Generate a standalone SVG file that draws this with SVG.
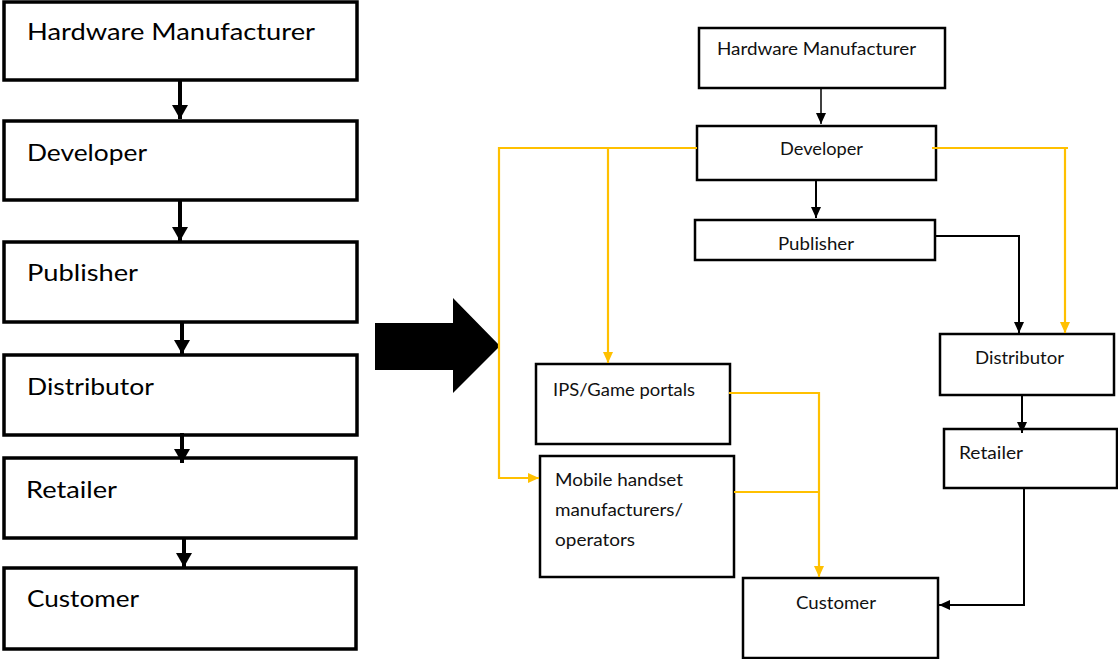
<svg xmlns="http://www.w3.org/2000/svg" width="1118" height="659" viewBox="0 0 1118 659">
  <style>
    .box-l { fill: #fff; stroke: #000; stroke-width: 3.5; }
    .box-r { fill: #fff; stroke: #000; stroke-width: 2.5; }
    .txt-l { font-family: Lato, "Open Sans", "Liberation Sans", sans-serif; font-size: 24px; fill: #000; }
    .txt-r { font-family: Lato, "Open Sans", "Liberation Sans", sans-serif; font-size: 18px; fill: #111; }
    .ln-l { fill: none; stroke: #000; stroke-width: 4; }
    .ln-k { fill: none; stroke: #000; stroke-width: 2; }
    .ln-k1 { fill: none; stroke: #000; stroke-width: 1.5; }
    .ln-y { fill: none; stroke: #FFC000; stroke-width: 2.2; }
  </style>
  <defs>
    <marker id="headL" markerUnits="userSpaceOnUse" markerWidth="16" markerHeight="16" refX="14" refY="8" orient="auto">
      <path d="M0,0 L14,8 L0,16 z" fill="#000"/>
    </marker>
    <marker id="headK" markerUnits="userSpaceOnUse" markerWidth="11" markerHeight="10" refX="11" refY="5" orient="auto">
      <path d="M0,0 L11,5 L0,10 z" fill="#000"/>
    </marker>
    <marker id="headY" markerUnits="userSpaceOnUse" markerWidth="11" markerHeight="10" refX="11" refY="5" orient="auto">
      <path d="M0,0 L11,5 L0,10 z" fill="#FFC000"/>
    </marker>
  </defs>

  <rect width="1118" height="659" fill="#fff"/>

  <!-- linear chain on the left -->
  <g id="l-hardware">
    <rect class="box-l" x="4" y="2" width="353" height="78"/>
    <text class="txt-l" x="27" y="40" textLength="288" lengthAdjust="spacingAndGlyphs">Hardware Manufacturer</text>
  </g>
  <g id="l-developer">
    <rect class="box-l" x="4" y="121" width="353" height="79"/>
    <text class="txt-l" x="27" y="161" textLength="120" lengthAdjust="spacingAndGlyphs">Developer</text>
  </g>
  <g id="l-publisher">
    <rect class="box-l" x="4" y="242" width="353" height="80"/>
    <text class="txt-l" x="27" y="281" textLength="111" lengthAdjust="spacingAndGlyphs">Publisher</text>
  </g>
  <g id="l-distributor">
    <rect class="box-l" x="4" y="355" width="353" height="80"/>
    <text class="txt-l" x="27" y="395" textLength="127" lengthAdjust="spacingAndGlyphs">Distributor</text>
  </g>
  <g id="l-retailer">
    <rect class="box-l" x="4" y="458" width="352" height="80"/>
    <text class="txt-l" x="26" y="498" textLength="91" lengthAdjust="spacingAndGlyphs">Retailer</text>
  </g>
  <g id="l-customer">
    <rect class="box-l" x="4" y="568" width="352" height="81"/>
    <text class="txt-l" x="27" y="607" textLength="112" lengthAdjust="spacingAndGlyphs">Customer</text>
  </g>

  <!-- big transition arrow -->
  <g id="transition-arrow">
    <polygon points="375,323 453,323 453,298 500,346 453,393 453,370 375,370" fill="#000"/>
  </g>

  <!-- network on the right -->
  <g id="r-hardware">
    <rect class="box-r" x="699" y="28" width="246" height="60"/>
    <text class="txt-r" x="717" y="55" textLength="199" lengthAdjust="spacingAndGlyphs">Hardware Manufacturer</text>
  </g>
  <g id="r-developer">
    <rect class="box-r" x="697" y="126" width="239" height="54"/>
    <text class="txt-r" x="780" y="155" textLength="83" lengthAdjust="spacingAndGlyphs">Developer</text>
  </g>
  <g id="r-publisher">
    <rect class="box-r" x="695" y="220" width="240" height="40"/>
    <text class="txt-r" x="778" y="250" textLength="76" lengthAdjust="spacingAndGlyphs">Publisher</text>
  </g>
  <g id="r-distributor">
    <rect class="box-r" x="940" y="334" width="174" height="61"/>
    <text class="txt-r" x="975" y="364" textLength="89" lengthAdjust="spacingAndGlyphs">Distributor</text>
  </g>
  <g id="r-retailer">
    <rect class="box-r" x="944" y="429" width="173" height="59"/>
    <text class="txt-r" x="959" y="459" textLength="64" lengthAdjust="spacingAndGlyphs">Retailer</text>
  </g>
  <g id="r-ips">
    <rect class="box-r" x="536" y="364" width="194" height="80"/>
    <text class="txt-r" x="553" y="396" textLength="142" lengthAdjust="spacingAndGlyphs">IPS/Game portals</text>
  </g>
  <g id="r-mobile">
    <rect class="box-r" x="540" y="456" width="194" height="121"/>
    <text class="txt-r" x="555" y="486" textLength="128" lengthAdjust="spacingAndGlyphs">Mobile handset</text>
    <text class="txt-r" x="555" y="516" textLength="128" lengthAdjust="spacingAndGlyphs">manufacturers/</text>
    <text class="txt-r" x="555" y="546" textLength="80" lengthAdjust="spacingAndGlyphs">operators</text>
  </g>
  <g id="r-customer">
    <rect class="box-r" x="743" y="578" width="195" height="80"/>
    <text class="txt-r" x="796" y="609" textLength="80" lengthAdjust="spacingAndGlyphs">Customer</text>
  </g>

  <g id="connectors">
    <!-- left chain -->
    <line class="ln-l" x1="180" y1="81" x2="180" y2="119" marker-end="url(#headL)"/>
    <line class="ln-l" x1="180" y1="201" x2="180" y2="241" marker-end="url(#headL)"/>
    <line class="ln-l" x1="182" y1="323" x2="182" y2="354" marker-end="url(#headL)"/>
    <line class="ln-l" x1="182" y1="433" x2="182" y2="463" marker-end="url(#headL)"/>
    <line class="ln-l" x1="184" y1="539" x2="184" y2="567" marker-end="url(#headL)"/>

    <!-- black links -->
    <line class="ln-k1" x1="821" y1="88" x2="821" y2="124" marker-end="url(#headK)"/>
    <line class="ln-k" x1="816" y1="180" x2="816" y2="218" marker-end="url(#headK)"/>
    <path class="ln-k" d="M935,236 H1019 V333" marker-end="url(#headK)"/>
    <line class="ln-k" x1="1022" y1="395" x2="1022" y2="433" marker-end="url(#headK)"/>
    <path class="ln-k" d="M1024,488 V605 H939" marker-end="url(#headK)"/>

    <!-- yellow links -->
    <path class="ln-y" d="M697,148 H499 V478 H539" marker-end="url(#headY)"/>
    <line class="ln-y" x1="608" y1="148" x2="608" y2="363" marker-end="url(#headY)"/>
    <path class="ln-y" d="M932,148 H1068"/>
    <line class="ln-y" x1="1065" y1="148" x2="1065" y2="333" marker-end="url(#headY)"/>
    <path class="ln-y" d="M729,393 H819 V577" marker-end="url(#headY)"/>
    <line class="ln-y" x1="734" y1="492" x2="818" y2="492"/>
  </g>
</svg>
